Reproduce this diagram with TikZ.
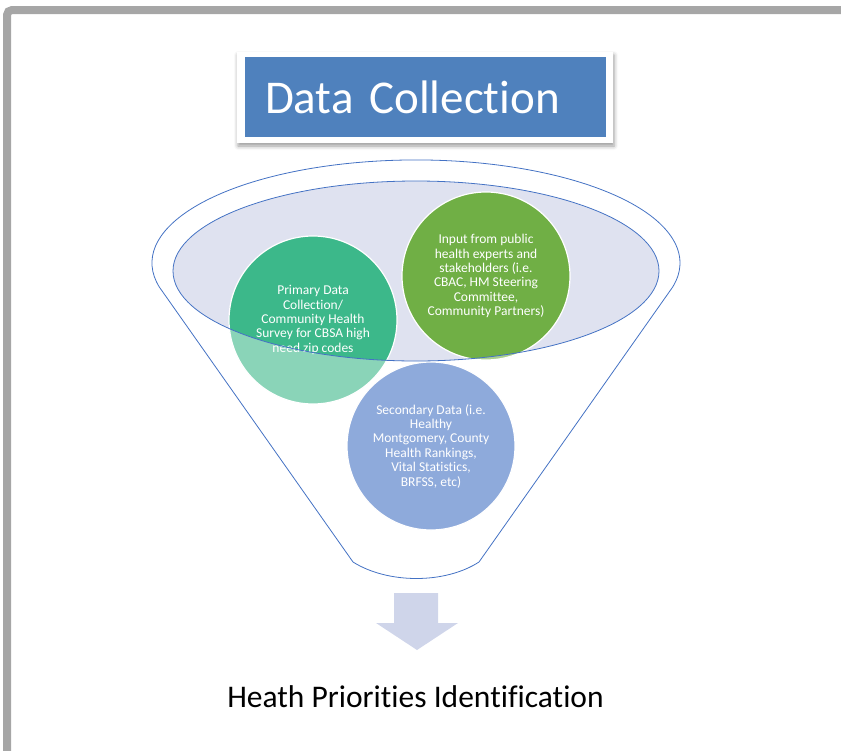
\documentclass[tikz,border=0pt]{standalone}
\usepackage{fontspec}
\setmainfont[Ligatures={NoCommon,NoContextual}]{Carlito}
\usepackage{tikz}
\usetikzlibrary{positioning,shadows.blur}
\definecolor{frame}{HTML}{A6A6A6}
\definecolor{boxblue}{HTML}{4F81BD}
\definecolor{rimblue}{HTML}{4472C4}
\definecolor{lavender}{HTML}{DFE2F0}
\definecolor{primgreen}{HTML}{3CB88A}
\definecolor{inputgreen}{HTML}{70AF45}
\definecolor{secblue}{HTML}{4472C4}
\definecolor{arrowfill}{HTML}{CFD5EA}

% funnel outline: top arc of the mouth, two sides and a rounded spout
\newcommand\funnelpath{(159.3,287) arc[start angle=166.5, end angle=373.5, x radius=264, y radius=103]
  -- (479,562) .. controls (445,584) and (388,584) .. (353,562) -- cycle}

\begin{document}
\begin{tikzpicture}[
  x=1pt, y=-1pt,
  titlebox/.style={fill=boxblue, text=white, font=\fontsize{47}{52}\selectfont, text width=321pt, inner xsep=20pt, align=left, minimum height=80pt},
  bubble/.style={circle, draw=white, line width=1.2pt, minimum size=168pt, inner sep=0pt, text=white, align=center, font=\fontsize{13.5}{14.4}\selectfont},
  rim/.style={draw=rimblue, line width=0.8pt}
]
  \useasboundingbox (0,0) rectangle (841,750);
  \clip (0,0) rectangle (841,750);

  % page frame
  \draw[frame, line width=8pt, rounded corners=5pt] (7,900) -- (7,10) -- (1000,10);

  % title
  \node[fill=white, minimum width=376pt, minimum height=91pt, blur shadow={shadow xshift=1pt, shadow yshift=-3pt, shadow blur radius=4pt}] (titleframe) at (425,97.5) {};
  \node[titlebox] (title) at (425.5,97) {Data Collection};

  % mouth of the funnel
  \fill[lavender] (416,271) ellipse[x radius=243, y radius=90];

  % data sources
  \node[bubble, fill=primgreen] (primary) at (313,320) {Primary Data\\Collection/\\Community Health\\Survey for CBSA high\\need zip codes};
  \node[bubble, fill=inputgreen] (input) at (486,276) {Input from public\\health experts and\\stakeholders (i.e.\\CBAC, HM Steering\\Committee,\\Community Partners)};
  \node[bubble, fill=secblue] (secondary) at (431,446) {Secondary Data (i.e.\\Healthy\\Montgomery, County\\Health Rankings,\\Vital Statistics,\\BRFSS, etc)};

  % funnel body fades what lies below the mouth
  \fill[white, fill opacity=0.4, even odd rule] \funnelpath (416,271) ellipse[x radius=243, y radius=90];
  \draw[rim] \funnelpath;
  \draw[rim] (416,271) ellipse[x radius=243, y radius=90];

  % outcome
  \fill[arrowfill] (394,593) -- (438,593) -- (438,623) -- (458,623) -- (417,650) -- (376,623) -- (394,623) -- cycle;
  \node[anchor=base, font=\fontsize{31.5}{36}\selectfont] (result) at (415.5,707) {Heath Priorities Identification};

\end{tikzpicture}
\end{document}
